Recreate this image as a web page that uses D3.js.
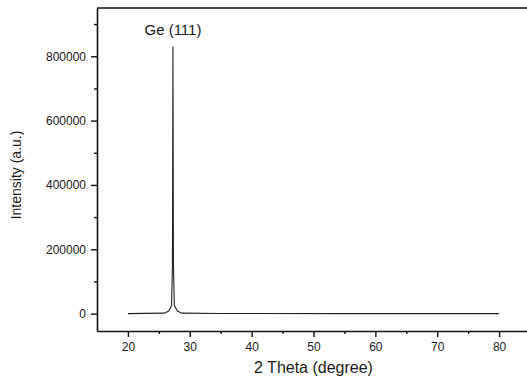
<!DOCTYPE html>
<html lang="en">
<head>
    <meta charset="UTF-8">
    <title>XRD Ge</title>
    <script src="https://d3js.org/d3.v7.min.js"></script>
    <style>
        body { margin: 0; background: #fff; }
        svg { display: block; }
        .tick text { font-family: "Liberation Sans", Arial, sans-serif; font-size: 12px; fill: #1a1a1a; }
        .lbl { font-family: "Liberation Sans", Arial, sans-serif; fill: #1a1a1a; }
    </style>
</head>
<body>
<svg width="527" height="381"></svg>

<script>
    // values
    const twoTheta = [20, 25.9, 26.6, 27.05, 27.2, 27.28, 27.36, 27.5, 28.0, 28.7, 35, 56.5, 80];
    const intensity = [0, 1500, 8000, 25000, 150000, 830000, 150000, 25000, 8000, 1500, 500, 0, 0];
    const xTicks = [20, 30, 40, 50, 60, 70, 80];
    const xMinor = [25, 35, 45, 55, 65, 75];
    const yTicks = [0, 200000, 400000, 600000, 800000];
    const yMinor = [100000, 300000, 500000, 700000, 900000];
    const peakLabel = {text: "Ge (111)", x: 27.28};

    const svg = d3.select("svg");
    const mLeft = 97, mRight = 530, mTop = 8, mBottom = 331;

    const x = d3.scaleLinear().domain([15, 85]).range([mLeft, mRight]);
    const y = d3.scaleLinear().domain([-54000, 950000]).range([mBottom, mTop]);

    const pts = twoTheta.map((t, i) => [t, intensity[i]]);

    // frame top
    svg.append("line")
        .attr("x1", mLeft).attr("x2", mRight)
        .attr("y1", mTop).attr("y2", mTop)
        .attr("stroke", "#111").attr("stroke-width", 1.6);

    // minor ticks
    svg.append("g")
        .attr("transform", `translate(0,${mBottom})`)
        .call(d3.axisBottom(x).tickValues(xMinor).tickSize(3).tickFormat(""))
        .call(g => g.select(".domain").remove())
        .selectAll("line").attr("stroke", "#111").attr("stroke-width", 1.4);
    svg.append("g")
        .attr("transform", `translate(${mLeft},0)`)
        .call(d3.axisLeft(y).tickValues(yMinor).tickSize(3).tickFormat(""))
        .call(g => g.select(".domain").remove())
        .selectAll("line").attr("stroke", "#111").attr("stroke-width", 1.4);

    // major axes
    const gx = svg.append("g")
        .attr("transform", `translate(0,${mBottom})`)
        .call(d3.axisBottom(x).tickValues(xTicks).tickSize(6).tickSizeOuter(0).tickPadding(5).tickFormat(d3.format("d")));
    gx.select(".domain").attr("stroke", "#111").attr("stroke-width", 1.6);
    gx.selectAll(".tick line").attr("stroke", "#111").attr("stroke-width", 1.4);

    const gy = svg.append("g")
        .attr("transform", `translate(${mLeft},0)`)
        .call(d3.axisLeft(y).tickValues(yTicks).tickSize(6).tickSizeOuter(0).tickPadding(5).tickFormat(d3.format("d")));
    gy.select(".domain").attr("stroke", "#111").attr("stroke-width", 1.6);
    gy.selectAll(".tick line").attr("stroke", "#111").attr("stroke-width", 1.4);

    // pattern
    svg.append("path")
        .datum(pts)
        .attr("fill", "none")
        .attr("stroke", "#222")
        .attr("stroke-width", 1.1)
        .attr("d", d3.line().x(d => x(d[0])).y(d => y(d[1])));

    // peak label
    svg.append("text")
        .attr("class", "lbl")
        .attr("x", x(peakLabel.x))
        .attr("y", 35)
        .attr("text-anchor", "middle")
        .style("font-size", "15px")
        .text(peakLabel.text);

    // axis titles
    svg.append("text")
        .attr("class", "lbl")
        .attr("x", (mLeft + mRight) / 2)
        .attr("y", 373)
        .attr("text-anchor", "middle")
        .style("font-size", "16px")
        .text("2 Theta (degree)");

    svg.append("text")
        .attr("class", "lbl")
        .attr("transform", "translate(21,175) rotate(-90)")
        .attr("text-anchor", "middle")
        .style("font-size", "14px")
        .text("Intensity (a.u.)");
</script>
</body>
</html>
